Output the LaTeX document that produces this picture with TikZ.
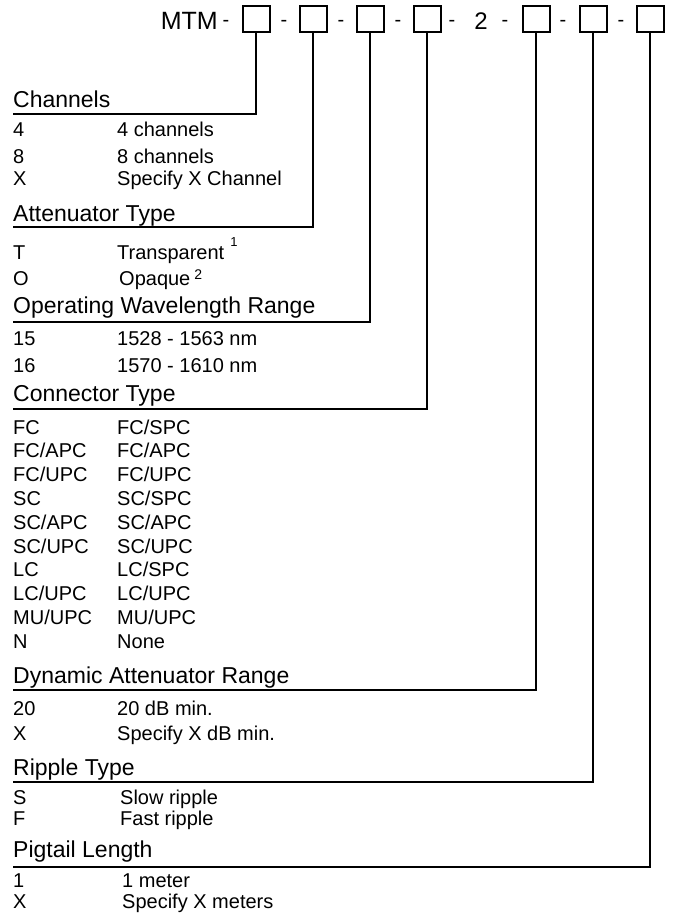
\documentclass[tikz,border=0pt]{standalone}
\usepackage{fontspec}
\setmainfont{Liberation Sans}
\usetikzlibrary{positioning}
\tikzstyle{line} = [draw, line width=2pt]

\begin{document}
\begin{tikzpicture}[x=1pt, y=-1pt, node distance=57pt]
        \tikzstyle{codebox} = [rectangle, draw, line width=2pt, minimum width=27pt,
        minimum height=26pt, inner sep=0pt]
        \tikzstyle{head} = [anchor=base west, inner sep=0pt, font=\fontsize{23}{27}\selectfont]
        \tikzstyle{item} = [anchor=base west, inner sep=0pt, font=\fontsize{20}{24}\selectfont]
        \tikzstyle{hyph} = [anchor=base, inner sep=0pt, font=\fontsize{20}{24}\selectfont]

        \useasboundingbox (0,0) rectangle (672,915);

        % part number
        \node [item, anchor=base east, font=\fontsize{25}{29}\selectfont] (mtm) at (218,30) {MTM};
        \node [hyph] (d0) at (226,27) {-};
        \node [codebox] (b1) at (256,19) {};
        \node [codebox, right of=b1] (b2) {};
        \node [codebox, right of=b2] (b3) {};
        \node [codebox, right of=b3] (b4) {};
        \node [codebox, right of=b4, xshift=52pt] (b5) {};
        \node [codebox, right of=b5] (b6) {};
        \node [codebox, right of=b6] (b7) {};
        \node [hyph] (d1) at (284,27) {-};
        \node [hyph] (d2) at (341,27) {-};
        \node [hyph] (d3) at (398,27) {-};
        \node [hyph] (d4) at (452,27) {-};
        \node [item, anchor=base, font=\fontsize{24}{28}\selectfont] (two) at (481,30) {2};
        \node [hyph] (d5) at (505,27) {-};
        \node [hyph] (d6) at (563,27) {-};
        \node [hyph] (d7) at (621,27) {-};

        % channels
        \node [head] (hChan) at (13,108) {Channels};
        \coordinate (uChan) at (13,114);
        \node [item] (chanA) at (13,136) {4};
        \node [item] (chanAd) at (117,136) {4 channels};
        \node [item] (chanB) at (13,163) {8};
        \node [item] (chanBd) at (117,163) {8 channels};
        \node [item] (chanC) at (13,185) {X};
        \node [item] (chanCd) at (117,185) {Specify X Channel};

        % attenuator type
        \node [head] (hAtt) at (13,221) {Attenuator Type};
        \coordinate (uAtt) at (13,227);
        \node [item] (attA) at (13,259) {T};
        \node [item] (attAd) at (117,259) {Transparent\hspace{6pt}\raisebox{13pt}{\fontsize{13}{13}\selectfont 1}};
        \node [item] (attB) at (13,285) {O};
        \node [item] (attBd) at (119,285) {Opaque\hspace{4pt}\raisebox{6pt}{\fontsize{14}{14}\selectfont 2}};

        % wavelength
        \node [head] (hWave) at (13,313) {Operating Wavelength Range};
        \coordinate (uWave) at (13,322);
        \node [item] (waveA) at (13,345) {15};
        \node [item] (waveAd) at (117,345) {1528 - 1563 nm};
        \node [item] (waveB) at (13,372) {16};
        \node [item] (waveBd) at (117,372) {1570 - 1610 nm};

        % connector type
        \node [head] (hCon) at (13,401) {Connector Type};
        \coordinate (uCon) at (13,409);
        \node [item] (conA) at (13,434) {FC};
        \node [item] (conAd) at (117,434) {FC/SPC};
        \node [item] (conB) at (13,457.8) {FC/APC};
        \node [item] (conBd) at (117,457.8) {FC/APC};
        \node [item] (conC) at (13,481.6) {FC/UPC};
        \node [item] (conCd) at (117,481.6) {FC/UPC};
        \node [item] (conD) at (13,505.4) {SC};
        \node [item] (conDd) at (117,505.4) {SC/SPC};
        \node [item] (conE) at (13,529.2) {SC/APC};
        \node [item] (conEd) at (117,529.2) {SC/APC};
        \node [item] (conF) at (13,553) {SC/UPC};
        \node [item] (conFd) at (117,553) {SC/UPC};
        \node [item] (conG) at (13,576.8) {LC};
        \node [item] (conGd) at (117,576.8) {LC/SPC};
        \node [item] (conH) at (13,600.6) {LC/UPC};
        \node [item] (conHd) at (117,600.6) {LC/UPC};
        \node [item] (conI) at (13,624.4) {MU/UPC};
        \node [item] (conId) at (117,624.4) {MU/UPC};
        \node [item] (conJ) at (13,648.2) {N};
        \node [item] (conJd) at (117,648.2) {None};

        % dynamic range
        \node [head] (hDyn) at (13,683) {Dynamic Attenuator Range};
        \coordinate (uDyn) at (13,690);
        \node [item] (dynA) at (13,715) {20};
        \node [item] (dynAd) at (117,715) {20 dB min.};
        \node [item] (dynB) at (13,740) {X};
        \node [item] (dynBd) at (117,740) {Specify X dB min.};

        % ripple
        \node [head] (hRip) at (13,775) {Ripple Type};
        \coordinate (uRip) at (13,782);
        \node [item] (ripA) at (13,804) {S};
        \node [item] (ripAd) at (120,804) {Slow ripple};
        \node [item] (ripB) at (13,825) {F};
        \node [item] (ripBd) at (120,825) {Fast ripple};

        % pigtail
        \node [head] (hPig) at (13,857) {Pigtail Length};
        \coordinate (uPig) at (13,867);
        \node [item] (pigA) at (13,887) {1};
        \node [item] (pigAd) at (122,887) {1 meter};
        \node [item] (pigB) at (13,908) {X};
        \node [item] (pigBd) at (122,908) {Specify X meters};

        \draw [line] (b1.south) |- (uChan);
        \draw [line] (b2.south) |- (uAtt);
        \draw [line] (b3.south) |- (uWave);
        \draw [line] (b4.south) |- (uCon);
        \draw [line] (b5.south) |- (uDyn);
        \draw [line] (b6.south) |- (uRip);
        \draw [line] (b7.south) |- (uPig);
    \end{tikzpicture}
\end{document}
